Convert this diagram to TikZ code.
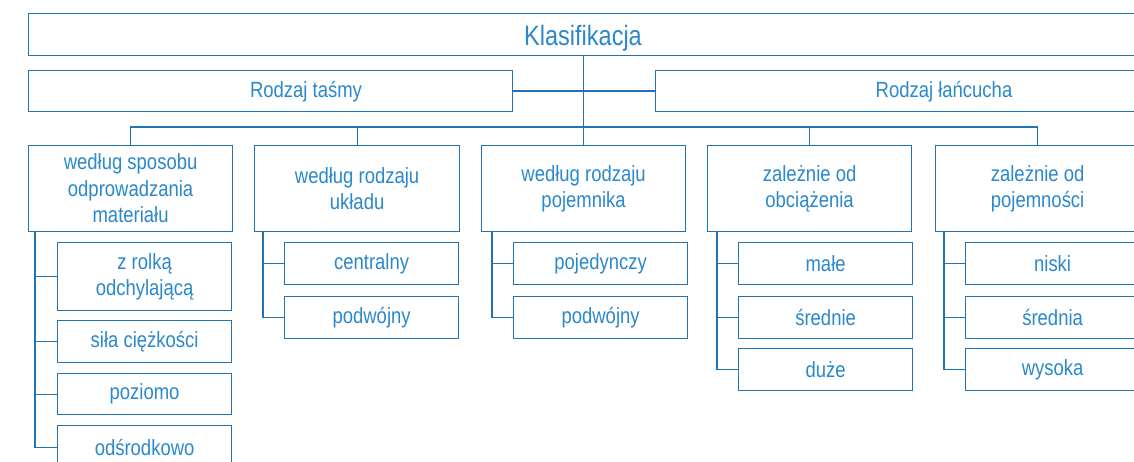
\documentclass[tikz,border=0pt]{standalone}
\usepackage{fontspec}
\setmainfont{Liberation Sans}[FakeStretch=0.84]
\definecolor{lc}{HTML}{2272B6}
\definecolor{tc}{HTML}{2A88CC}
\begin{document}
\begin{tikzpicture}[x=1pt,y=-1pt,
  box/.style={draw=lc, line width=1.2pt, inner sep=0pt, anchor=north west, text=tc,
    align=center, font=\fontsize{22}{26.5}\selectfont},
  lbl/.style={inner sep=0pt, text=tc, font=\fontsize{22}{26.5}\selectfont},
  conn/.style={draw=lc, line width=1.2pt}]
\useasboundingbox (0,0) rectangle (1134,462);
\clip (0,0) rectangle (1134,462);
\fill[white] (0,0) rectangle (1134,462);
% top
\node[box, minimum width=1110pt, minimum height=42pt] (top) at (28,13) {};
\node[lbl, font=\fontsize{28}{30}\selectfont, text height=20pt, text depth=0pt] (topt) at (583,36) {Klasifikacja};
\node[box, minimum width=484pt, minimum height=41pt] (tas) at (28,70) {};
\node[lbl, text height=16pt, text depth=0pt] (tast) at (306,90) {Rodzaj taśmy};
\node[box, minimum width=580pt, minimum height=41pt] (lan) at (655,70) {};
\node[lbl, text height=16pt, text depth=0pt] (lant) at (944,90) {Rodzaj łańcucha};
% level 2
\node[box, minimum width=204pt, minimum height=86pt] (b1) at (28,145) {według sposobu\\odprowadzania\\materiału};
\node[box, minimum width=205pt, minimum height=86pt] (b2) at (254,145) {według rodzaju\\układu};
\node[box, minimum width=204pt, minimum height=86pt] (b3) at (481,145) {według rodzaju\\pojemnika};
\node[box, minimum width=204pt, minimum height=86pt] (b4) at (707,145) {zależnie od\\obciążenia};
\node[box, minimum width=204pt, minimum height=86pt] (b5) at (935,145) {zależnie od\\pojemności};
% level 3
\node[box, minimum width=174pt, minimum height=68pt] (l11) at (57,242) {z rolką\\odchylającą};
\node[box, minimum width=174pt, minimum height=42pt] (l12) at (57,320) {siła ciężkości};
\node[box, minimum width=174pt, minimum height=41pt] (l13) at (57,373) {poziomo};
\node[box, minimum width=174pt, minimum height=44pt] (l14) at (57,425) {odśrodkowo};
\node[box, minimum width=174pt, minimum height=42pt] (l21) at (284,242) {centralny};
\node[box, minimum width=174pt, minimum height=42pt] (l22) at (284,296) {podwójny};
\node[box, minimum width=174pt, minimum height=42pt] (l31) at (513,242) {pojedynczy};
\node[box, minimum width=174pt, minimum height=42pt] (l32) at (513,296) {podwójny};
\node[box, minimum width=174pt, minimum height=42pt] (l41) at (738,242) {małe};
\node[box, minimum width=174pt, minimum height=42pt] (l42) at (738,296) {średnie};
\node[box, minimum width=174pt, minimum height=42pt] (l43) at (738,348) {duże};
\node[box, minimum width=174pt, minimum height=42pt] (l51) at (965,242) {niski};
\node[box, minimum width=174pt, minimum height=42pt] (l52) at (965,296) {średnia};
\node[box, minimum width=174pt, minimum height=42pt] (l53) at (965,348) {wysoka};
% connectors
\draw[conn] (top.south -| b3.north) -- (b3.north);
\draw[conn] (tas.east) -- (lan.west);
\draw[conn] (b1.north) -- ++(0,-18) -| (b5.north);
\draw[conn] (b2.north) -- ++(0,-18);
\draw[conn] (b4.north) -- ++(0,-18);
\foreach \l in {l11,l12,l13,l14} \draw[conn] ([xshift=7pt]b1.south west) |- (\l.west);
\foreach \l in {l21,l22} \draw[conn] ([xshift=9pt]b2.south west) |- (\l.west);
\foreach \l in {l31,l32} \draw[conn] ([xshift=11pt]b3.south west) |- (\l.west);
\foreach \l in {l41,l42,l43} \draw[conn] ([xshift=10pt]b4.south west) |- (\l.west);
\foreach \l in {l51,l52,l53} \draw[conn] ([xshift=9pt]b5.south west) |- (\l.west);
\end{tikzpicture}
\end{document}
